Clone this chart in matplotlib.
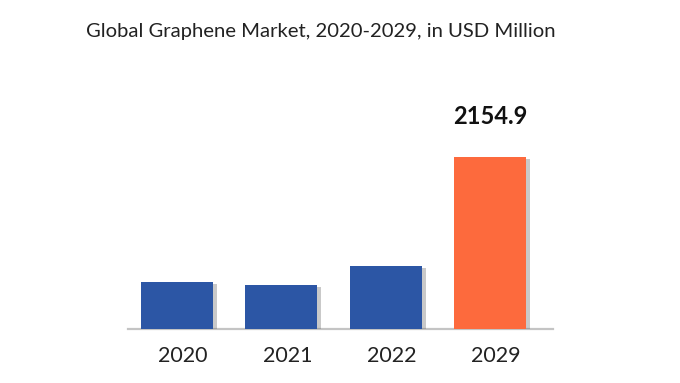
import matplotlib
matplotlib.use("Agg")
import matplotlib.pyplot as plt
import matplotlib.patheffects as pe
import matplotlib.transforms as mtransforms

years = ["2020", "2021", "2022", "2029"]
values = [589.0, 551.0, 789.0, 2154.9]
bar_colors = ["#2C56A5", "#2C56A5", "#2C56A5", "#FD6A3D"]
title = "Global Graphene Market, 2020-2029, in USD Million"
highlight_label = "2154.9"

plt.rcParams['font.family'] = ['Lato', 'DejaVu Sans']

fig = plt.figure(figsize=(6.8, 3.83), dpi=100)
W, H = 680, 383
left, right, bottom, top = 128, 553, 329, 100
ax = fig.add_axes([left / W, (H - bottom) / H, (right - left) / W, (bottom - top) / H])

x = list(range(len(years)))
bars = ax.bar(x, values, width=0.69, color=bar_colors, zorder=3)
for b in bars:
    b.set_path_effects([pe.SimplePatchShadow(offset=(3, -1.5), shadow_rgbFace="#666666", alpha=0.35),
                        pe.Normal()])

ax.set_xlim(-0.47, 3.605)
ax.set_ylim(0, 2870)

for s in ["top", "right", "left"]:
    ax.spines[s].set_visible(False)
ax.spines["bottom"].set_color("#C4C4C4")
ax.spines["bottom"].set_linewidth(1.6)
ax.set_yticks([])
ax.set_xticks(x)
ax.set_xticklabels(years, fontsize=15.5, color="#222222")
ax.tick_params(axis="x", length=0, pad=12)
offset = mtransforms.ScaledTranslation(6 / 100, 0, fig.dpi_scale_trans)
for lab in ax.get_xticklabels():
    lab.set_transform(lab.get_transform() + offset)

ax.annotate(highlight_label, xy=(3, values[3]), xytext=(0, 21), textcoords="offset points",
            ha="center", va="bottom", fontsize=17, fontweight="bold", color="#111111")

fig.text(321 / W, 1 - 31 / H, title, ha="center", va="center", fontsize=14.6, color="#222222")

fig.savefig("out.png", dpi=100, facecolor="white")
